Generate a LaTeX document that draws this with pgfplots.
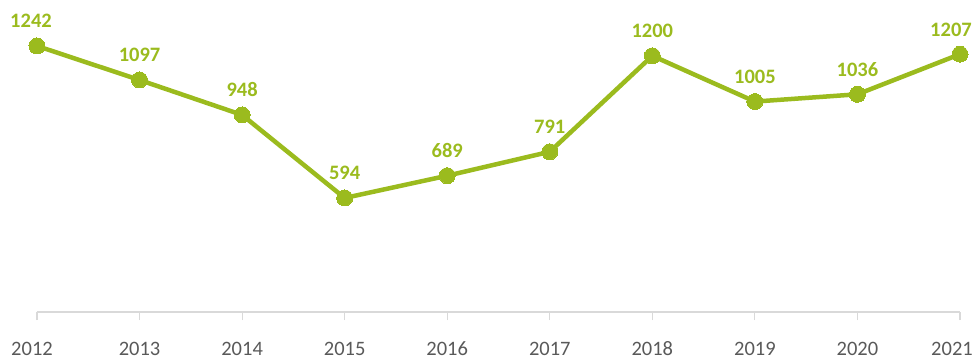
\documentclass[border=0pt]{standalone}
\usepackage{fontspec}
\setmainfont{Carlito}
\usepackage{pgfplots}
\pgfplotsset{compat=1.18}
\definecolor{lgreen}{HTML}{9BBB1E}
\definecolor{axgray}{HTML}{D9D9D9}
\definecolor{txtgray}{HTML}{595959}

\begin{document}
\begin{tikzpicture}
\begin{axis}[
    scale only axis,
    width=923pt,
    height=312pt,
    xmin=0, xmax=9,
    ymin=108, ymax=1438,
    axis x line*=bottom,
    axis y line=none,
    x axis line style={axgray, line width=1.2pt},
    xtick={0,...,9},
    % end labels pulled inwards a little, as in the original
    xticklabels={{2012\kern10pt},2013,2014,2015,2016,2017,2018,2019,2020,{2021\kern16pt}},
    tick align=outside,
    major tick length=8pt,
    x tick style={axgray, line width=1.2pt},
    xticklabel style={font=\fontsize{20.5}{21}\selectfont, text=txtgray, anchor=base, yshift=-35pt, inner sep=0pt},
    clip=false,
    /pgf/number format/assume math mode=true,
    /pgf/number format/1000 sep={},
    nodes near coords,
    visualization depends on={\thisrow{dx} \as \dx},
    every node near coord/.append style={font=\bfseries\fontsize{20.5}{21}\selectfont, text=lgreen, anchor=base, inner sep=0pt, yshift=18pt, xshift=\dx pt},
]
\addplot[lgreen, line width=4.5pt, mark=*, mark size=8pt, mark options={fill=lgreen, draw=lgreen, line width=0pt}]
    table {
        x y dx
        0 1242 -6
        1 1097 0
        2 948 0
        3 594 0
        4 689 0
        5 791 0
        6 1200 0
        7 1005 0
        8 1036 0
        9 1207 -9
    };
\end{axis}
\pgfresetboundingbox
\path ([shift={(-37pt,-49pt)}]current axis.south west) rectangle ([shift={(18pt,0pt)}]current axis.north east);
\end{tikzpicture}
\end{document}
